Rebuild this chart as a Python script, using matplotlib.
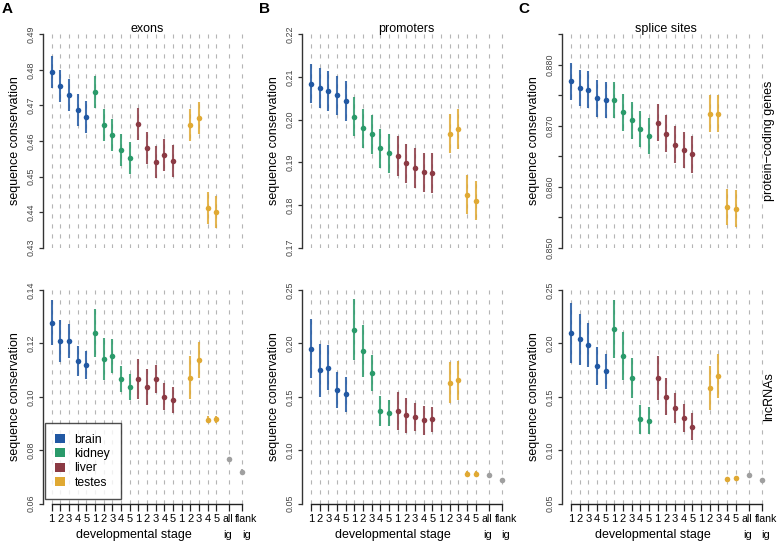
import numpy as np
import matplotlib
matplotlib.use("Agg")
import matplotlib.pyplot as plt
import matplotlib.patches as patches
import matplotlib.transforms as mtransforms

plt.rcParams['font.family'] = ['Liberation Sans', 'DejaVu Sans']
plt.rcParams['lines.scale_dashes'] = False

# categories
tissues = ["brain", "kidney", "liver", "testes"]
tissue_colors = ["#2158a3", "#2a9a6a", "#8b3a44", "#e0a933"]
grey = "#a0a0a0"
stage_labels = ["1", "2", "3", "4", "5"] * 4
extra_labels = ["all", "flank"]

nan = np.nan
# protein-coding genes (top row): brain1-5, kidney1-5, liver1-5, testes1-5, all ig, flank ig
exons_pc = [0.4793, 0.4754, 0.4728, 0.4687, 0.4668,
            0.4738, 0.4646, 0.4618, 0.4574, 0.4552,
            0.4647, 0.4579, 0.4540, 0.4561, 0.4543,
            nan, 0.4645, 0.4664, 0.4412, 0.4400,
            nan, nan]
exons_pc_err = [0.0045] * 22

promoters_pc = [0.2084, 0.2074, 0.2067, 0.2057, 0.2044,
                0.2007, 0.1980, 0.1966, 0.1933, 0.1921,
                0.1915, 0.1898, 0.1887, 0.1877, 0.1875,
                nan, 0.1967, 0.1978, 0.1824, 0.1810,
                nan, nan]
promoters_pc_err = [0.0046] * 22

splice_pc = [0.8773, 0.8762, 0.8759, 0.8745, 0.8742,
             0.8742, 0.8722, 0.8709, 0.8695, 0.8683,
             0.8705, 0.8687, 0.8669, 0.8660, 0.8653,
             nan, 0.8720, 0.8720, 0.8567, 0.8564,
             nan, nan]
splice_pc_err = [0.0030] * 22

# lncRNAs (bottom row)
exons_lnc = [0.1278, 0.1209, 0.1209, 0.1133, 0.1118,
             0.1240, 0.1141, 0.1153, 0.1066, 0.1036,
             0.1066, 0.1036, 0.1066, 0.1000, 0.0988,
             nan, 0.1071, 0.1138, 0.0913, 0.0916,
             0.0765, 0.0719]
exons_lnc_err = [0.0085, 0.0077, 0.0063, 0.0056, 0.0052,
                 0.0090, 0.0078, 0.0063, 0.0050, 0.0050,
                 0.0075, 0.0068, 0.0052, 0.0051, 0.0050,
                 nan, 0.0080, 0.0067, 0.0013, 0.0013,
                 0.0006, 0.0010]

promoters_lnc = [0.1950, 0.1747, 0.1772, 0.1563, 0.1522,
                 0.2128, 0.1925, 0.1722, 0.1366, 0.1350,
                 0.1366, 0.1328, 0.1313, 0.1278, 0.1288,
                 nan, 0.1631, 0.1653, 0.0781, 0.0781,
                 0.0766, 0.0719]
promoters_lnc_err = [0.0277, 0.0248, 0.0210, 0.0170, 0.0166,
                     0.0285, 0.0244, 0.0170, 0.0138, 0.0122,
                     0.0180, 0.0164, 0.0133, 0.0133, 0.0120,
                     nan, 0.0190, 0.0180, 0.0020, 0.0020,
                     0.0010, 0.0010]

splice_lnc = [0.2094, 0.2038, 0.1984, 0.1788, 0.1738,
              0.2134, 0.1881, 0.1675, 0.1288, 0.1275,
              0.1672, 0.1500, 0.1391, 0.1300, 0.1219,
              nan, 0.1578, 0.1697, 0.0725, 0.0738,
              0.0769, 0.0719]
splice_lnc_err = [0.0280, 0.0240, 0.0206, 0.0180, 0.0164,
                  0.0270, 0.0227, 0.0185, 0.0133, 0.0128,
                  0.0206, 0.0172, 0.0140, 0.0130, 0.0125,
                  nan, 0.0206, 0.0205, 0.0020, 0.0020,
                  0.0010, 0.0010]

panels = [
    # (values, errors, ylim, yticks, labelled ticks)
    (exons_pc, exons_pc_err, (0.43, 0.49), np.arange(0.43, 0.4901, 0.01), None),
    (promoters_pc, promoters_pc_err, (0.17, 0.22), np.arange(0.17, 0.2201, 0.01), None),
    (splice_pc, splice_pc_err, (0.85, 0.885), np.arange(0.85, 0.8851, 0.005), [0.85, 0.86, 0.87, 0.88]),
    (exons_lnc, exons_lnc_err, (0.06, 0.14), np.arange(0.06, 0.1401, 0.02), None),
    (promoters_lnc, promoters_lnc_err, (0.05, 0.25), np.arange(0.05, 0.2501, 0.05), None),
    (splice_lnc, splice_lnc_err, (0.05, 0.25), np.arange(0.05, 0.2501, 0.05), None),
]
titles = ["exons", "promoters", "splice sites"]
row_labels = ["protein\u2212coding genes", "lncRNAs"]

# x positions: 20 stages, then all ig / flank ig a bit further apart
xpos = np.concatenate([np.arange(1, 21), [21.5, 23.0]])
point_colors = [c for c in tissue_colors for _ in range(5)] + [grey, grey]

W, H = 778, 541
fig = plt.figure(figsize=(W / 100, H / 100), dpi=100)

lefts = [43, 302.3, 562.3]
rows = [(34.3, 247.7), (290.0, 503.5)]
axw = 208

for i, (vals, errs, ylim, yticks, shown) in enumerate(panels):
    r, c = divmod(i, 3)
    top, bot = rows[r]
    ax = fig.add_axes([lefts[c] / W, 1 - bot / H, axw / W, (bot - top) / H])
    ax.set_xlim(0, 24)
    ax.set_ylim(*ylim)

    ax.vlines(xpos, ylim[0], ylim[1], colors="#b5b5b5", linewidth=0.8,
              linestyles=[(0, (3.0, 4.2))], zorder=1)

    vals = np.array(vals, dtype=float)
    errs = np.array(errs, dtype=float)
    for x, v, e, col in zip(xpos, vals, errs, point_colors):
        if np.isnan(v):
            continue
        ax.plot([x, x], [v - e, v + e], color=col, linewidth=1.5, alpha=0.85,
                solid_capstyle="butt", zorder=2, clip_on=False)
        ax.plot(x, v, "o", color=col, markersize=4.0, markeredgewidth=0, zorder=3)

    for s in ["top", "right"]:
        ax.spines[s].set_visible(False)
    ax.spines["left"].set_color("#333333")
    ax.spines["left"].set_linewidth(1.0)

    ax.set_yticks(yticks)
    labels = ["%.3f" % t if ylim[0] > 0.5 else "%.2f" % t for t in yticks]
    if shown is not None:
        labels = [l if any(abs(t - s) < 1e-9 for s in shown) else "" for t, l in zip(yticks, labels)]
    ax.set_yticklabels(labels)
    ax.tick_params(axis="y", length=3, width=0.9, color="#333333", pad=2.5,
                   labelsize=6.4, labelcolor="#444444", labelrotation=90)
    for lab in ax.get_yticklabels():
        lab.set_va("center")

    ax.text(-0.135, 0.5, "sequence conservation", transform=ax.transAxes,
            rotation=90, ha="center", va="center", fontsize=9)

    if r == 0:
        ax.spines["bottom"].set_visible(False)
        ax.set_xticks([])
        ax.text(0.5, 1.025, titles[c], transform=ax.transAxes, ha="center",
                va="center", fontsize=9)
    else:
        ax.spines["bottom"].set_bounds(xpos[0], xpos[-1])
        ax.spines["bottom"].set_color("#222222")
        ax.spines["bottom"].set_linewidth(1.0)
        ax.set_xticks(xpos)
        ax.set_xticklabels(stage_labels + ["", ""])
        ax.tick_params(axis="x", length=5, width=0.9, color="#222222", pad=2.5,
                       labelsize=8)
        trans = mtransforms.blended_transform_factory(ax.transData, ax.transAxes)
        # "all" / "flank" labels, nudged apart so they do not collide
        for x, lab, dx in zip(xpos[-2:], extra_labels, [-1.5, 4.0]):
            off = mtransforms.ScaledTranslation(dx / 100, -7.5 / 72, fig.dpi_scale_trans)
            ax.text(x, 0, lab, transform=trans + off, ha="center", va="top",
                    fontsize=7.6)
            ax.text(x + dx / 8.66, -0.148, "ig", transform=trans,
                    ha="center", va="center", fontsize=8)
        ax.text(10.5, -0.148, "developmental stage", transform=trans,
                ha="center", va="center", fontsize=9)

    if c == 2:
        ax.text((769 - lefts[c]) / axw, 0.5, row_labels[r], transform=ax.transAxes,
                rotation=90, ha="center", va="center", fontsize=9)

    if i == 3:
        handles = [patches.Patch(facecolor=col, edgecolor="none") for col in tissue_colors]
        leg = ax.legend(handles, tissues, loc="lower left",
                        bbox_to_anchor=(0.01, 0.02), borderaxespad=0,
                        fontsize=8.8, frameon=True, fancybox=False,
                        handlelength=0.75, handleheight=0.75, handletextpad=0.8,
                        labelspacing=0.2, borderpad=0.85)
        leg.get_frame().set_edgecolor("#222222")
        leg.get_frame().set_linewidth(1.0)
        leg.set_zorder(5)

for letter, x in zip(["A", "B", "C"], [2, 259, 518]):
    fig.text(x / W, 1 - 2 / H, letter, ha="left", va="top", fontsize=11,
             fontweight="bold")

fig.savefig("out.png", dpi=100)
